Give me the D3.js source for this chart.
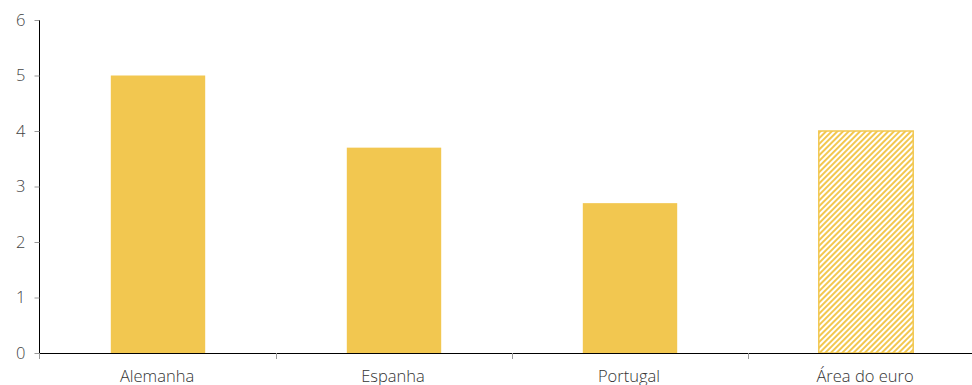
<!DOCTYPE html>
<html><head><meta charset="utf-8">
<script src="https://cdn.jsdelivr.net/npm/d3@7"></script>
<style>body{margin:0;background:#fff}svg{display:block}text{font-family:"Open Sans",sans-serif;font-weight:300}</style>
</head><body><svg id="c" width="972" height="385"></svg>
<script>
const categories = ["Alemanha","Espanha","Portugal","Área do euro"];
const values = [5.0, 3.7, 2.7, 4.0];
const hatched = [false, false, false, true];
const yTicks = [0,1,2,3,4,5,6];

const W = 972, H = 385;
const m = {left:39, top:20, bottom:32};
const svg = d3.select("#c");
const color = "#F2C750";

const defs = svg.append("defs");
const pat = defs.append("pattern").attr("id","hatch").attr("patternUnits","userSpaceOnUse")
  .attr("width",4).attr("height",4).attr("patternTransform","rotate(45)");
pat.append("rect").attr("width",4).attr("height",4).attr("fill","#fff");
pat.append("rect").attr("x",0).attr("width",2).attr("height",4).attr("fill",color);

const x = d3.scaleBand().domain(categories).range([m.left, m.left+944]).paddingInner(0.6).paddingOuter(0.3);
const y = d3.scaleLinear().domain([0,6]).range([353, 20]);

svg.selectAll("rect.bar").data(values).join("rect").attr("class","bar")
  .attr("x",(d,i)=>x(categories[i]) + 1)
  .attr("width",x.bandwidth())
  .attr("y",d=>y(d))
  .attr("height",d=>y(0)-y(d))
  .attr("fill",(d,i)=>hatched[i] ? "url(#hatch)" : color)
  .attr("stroke",(d,i)=>hatched[i] ? color : "none")
  .attr("stroke-width",1.5);

// y axis
const ya = svg.append("g").attr("transform",`translate(${m.left+0.5},0)`)
  .call(d3.axisLeft(y).tickValues(yTicks).tickSize(5).tickPadding(9).tickFormat(d3.format("d")));
ya.select(".domain").attr("stroke","#000").attr("d",`M0,${y(6)}V${y(0)}`);
ya.selectAll(".tick line").attr("stroke","#999");
ya.selectAll(".tick text").attr("fill","#444").style("font-size","16.5px");

// x axis
const xa = svg.append("g").attr("transform",`translate(0,${y(0)})`)
  .call(d3.axisBottom(x).tickSize(0).tickPadding(17));
xa.select(".domain").remove();
xa.selectAll(".tick text").attr("fill","#333").style("font-size","16.5px");
svg.append("line").attr("x1",m.left).attr("x2",W).attr("y1",y(0)+0.5).attr("y2",y(0)+0.5).attr("stroke","#000");
const bounds = [m.left].concat(categories.slice(1).map(c=>x(c) - x.step()*x.paddingInner()/2 + 1));
svg.selectAll("line.xt").data(bounds).join("line").attr("class","xt")
  .attr("x1",d=>Math.round(d)+0.5).attr("x2",d=>Math.round(d)+0.5).attr("y1",y(0)).attr("y2",y(0)+6).attr("stroke","#999");
</script></body></html>
